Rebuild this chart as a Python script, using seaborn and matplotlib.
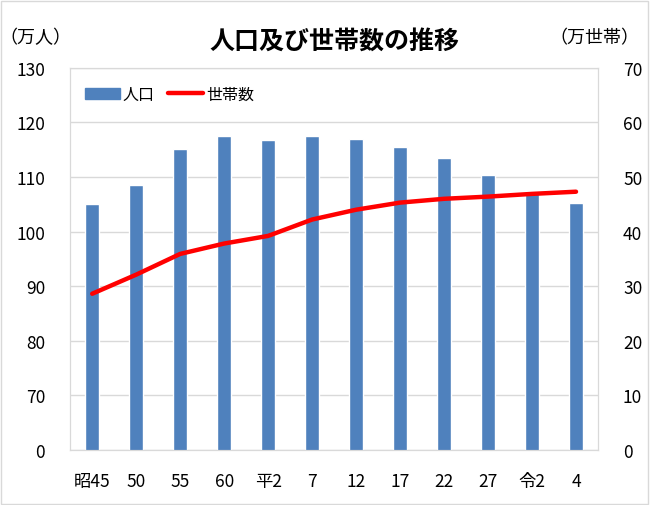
import numpy as np
import pandas as pd
import seaborn as sns
import matplotlib.pyplot as plt
from matplotlib.patches import Rectangle
from matplotlib.lines import Line2D

# 年次ラベル
years = ['昭45', '50', '55', '60', '平2', '7', '12', '17', '22', '27', '令2', '4']
# 人口（万人）
population = [105.1, 108.6, 115.2, 117.5, 116.8, 117.5, 117.0, 115.4, 113.5, 110.4, 107.0, 105.3]
# 世帯数（万世帯）
households = [28.6, 32.1, 35.9, 37.8, 39.2, 42.2, 44.0, 45.3, 46.0, 46.4, 46.9, 47.3]

left_ticks = [60, 70, 80, 90, 100, 110, 120, 130]
left_labels = ['0', '70', '80', '90', '100', '110', '120', '130']

sns.set_style('white')
plt.rcParams['font.family'] = ['Noto Sans CJK JP', 'DejaVu Sans']
plt.rcParams['text.color'] = 'black'
plt.rcParams['xtick.color'] = 'black'
plt.rcParams['ytick.color'] = 'black'

data = pd.DataFrame({'year': years, 'pop': population, 'hh': households})

fig = plt.figure(figsize=(6.5, 5.06), dpi=100)
ax = fig.add_axes([0.108, 0.109, 0.812, 0.755])

sns.barplot(x='year', y='pop', data=data, color='#4F81BD', width=0.33,
            saturation=1, ax=ax, zorder=2)
ax.set_ylim(60, 130)
ax.set_yticks(left_ticks)
ax.set_yticklabels(left_labels)
ax.yaxis.grid(True, color='#d9d9d9', linewidth=1, zorder=0)
ax.set_axisbelow(True)
ax.set_xlabel('')
ax.set_ylabel('')
ax.tick_params(axis='y', length=0, labelsize=12.5, pad=18)
ax.tick_params(axis='x', length=0, labelsize=12.5, pad=16)
for s in ax.spines.values():
    s.set_color('#d9d9d9')

ax2 = ax.twinx()
sns.lineplot(x=np.arange(len(years)), y=data['hh'], color='red', linewidth=3.2,
             ax=ax2, zorder=3)
ax2.set_ylim(0, 70)
ax2.set_yticks(range(0, 71, 10))
ax2.set_ylabel('')
ax2.tick_params(axis='y', length=0, labelsize=12.5, pad=18)
for s in ax2.spines.values():
    s.set_color('#d9d9d9')
ax.set_xlim(-0.5, len(years) - 0.5)

handles = [Rectangle((0, 0), 1, 1, color='#4F81BD'),
           Line2D([0], [0], color='red', linewidth=3.2)]
ax.legend(handles, ['人口', '世帯数'], loc='upper left', ncol=2, frameon=False,
          fontsize=11.5, handlelength=2.2, handletextpad=0.2, columnspacing=0.8,
          bbox_to_anchor=(0.0, 0.99))

fig.text(0.515, 0.917, '人口及び世帯数の推移', ha='center', va='center',
         fontsize=18, fontweight='bold')
fig.text(0.054, 0.925, '（万人）', ha='center', va='center', fontsize=13)
fig.text(0.915, 0.925, '（万世帯）', ha='center', va='center', fontsize=13)

fig.patches.append(Rectangle((0.002, 0.002), 0.995, 0.995, transform=fig.transFigure,
                             fill=False, edgecolor='#d9d9d9', linewidth=1))

fig.savefig('out.png', dpi=100)
